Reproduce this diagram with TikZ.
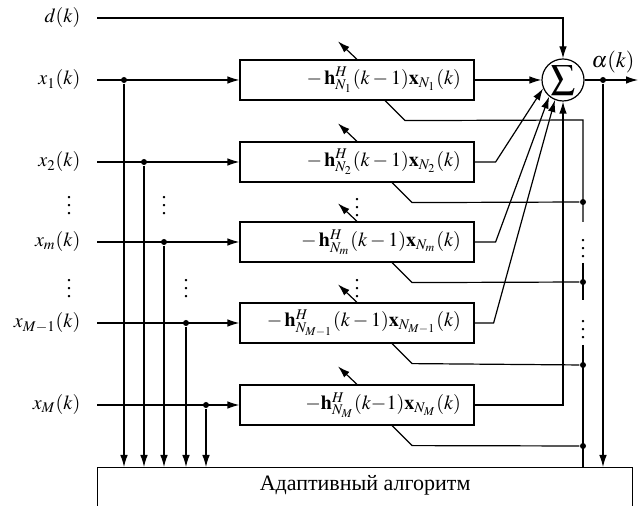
\documentclass[tikz,border=0pt]{standalone}
\usepackage{mathptmx}
\usepackage{fontspec}
\setmainfont{Liberation Serif}
\usetikzlibrary{arrows.meta,calc}
\newcommand\ftext[1]{\makebox[104pt][r]{$#1$}}

\begin{document}
\begin{tikzpicture}[x=0.5pt, y=-0.5pt,
    line width=0.6pt,
    >={Latex[length=6pt,width=3.8pt]},
    font=\fontsize{10}{12}\selectfont,
    lbl/.style={anchor=east, inner xsep=8pt, inner ysep=0pt},
    filt/.style={draw, minimum height=20pt, minimum width=117pt, inner xsep=0pt},
    dot/.style={circle, fill, inner sep=0pt, minimum size=3pt},
    sumnode/.style={draw, circle, minimum size=21pt, inner sep=0pt, font=\fontsize{12}{14}\selectfont}
]
\useasboundingbox (0,0) rectangle (642,506);

% input signals
\node[lbl] (d) at (97,18) {$d(k)$};
\node[lbl] (x1) at (97,80) {$x_1(k)$};
\node[lbl] (x2) at (97,162) {$x_2(k)$};
\node[lbl] (xm) at (97,242) {$x_m(k)$};
\node[lbl] (xM1) at (97,323) {$x_{M-1}(k)$};
\node[lbl] (xM) at (97,405) {$x_M(k)$};
\node (vd1) at (69,200) {$\vdots$};
\node (vd2) at (69,283) {$\vdots$};

% filters
\node[filt] (f1) at (357,80) {\ftext{-\,\mathbf{h}^H_{N_1}(k-1)\mathbf{x}_{N_1}(k)}};
\node[filt] (f2) at (357,162) {\ftext{-\,\mathbf{h}^H_{N_2}(k-1)\mathbf{x}_{N_2}(k)}};
\node[filt] (fm) at (357,242) {\ftext{-\,\mathbf{h}^H_{N_m}(k-1)\mathbf{x}_{N_m}(k)}};
\node[filt] (fM1) at (357,323) {\ftext{-\,\mathbf{h}^H_{N_{M-1}}(k-1)\mathbf{x}_{N_{M-1}}(k)}};
\node[filt] (fM) at (357,405) {\ftext{-\mathbf{h}^H_{N_M}(k{-}1)\mathbf{x}_{N_M}(k)}};
\node (vf1) at (357,202) {$\vdots$};
\node (vf2) at (357,283) {$\vdots$};

\node[sumnode] (sum) at (563,80) {$\displaystyle\sum$};
\node (alab) at (613,62) {\fontsize{11}{13}\selectfont$\alpha(k)$};
\node[draw, anchor=north west, minimum width=267.5pt, inner ysep=3pt,
      text height=8.5pt, text depth=20pt, font=\fontsize{11}{13}\selectfont]
      (alg) at (97,467) {Адаптивный алгоритм};

% taps to the algorithm
\node[dot] (t1) at (124,80) {};
\node[dot] (t2) at (144,162) {};
\node[dot] (tm) at (164,242) {};
\node[dot] (tM1) at (186,323) {};
\node[dot] (tM) at (206,405) {};
\node (vt1) at (164,200) {$\vdots$};
\node (vt2) at (186,283) {$\vdots$};

\foreach \s/\t in {x1/f1, x2/f2, xm/fm, xM1/fM1, xM/fM}
  \draw[->] (\s) -- (\t);
\foreach \t in {t1, t2, tm, tM1, tM}
  \draw[->] (\t) -- (\t |- alg.north);
\foreach \t in {f1, f2, fm, fM1, fM}
  \draw[->] (\t.north) -- ++(-19,-18);

\draw[->] (d) -| (sum);
\draw[->] (f1) -- (sum);
\draw[->] (f2.east) -- ++(21,0) -- (sum.203);
\draw[->] (fm.east) -- ++(21,0) -- (sum.230);
\draw[->] (fM1.east) -- ++(19,0) -- (sum.248);
\draw[->] (fM.east) -| (sum.south);

% output
\node[dot] (o) at (603,80) {};
\coordinate (out) at (638,80);
\draw[->] (sum) -- (out);
\draw[->] (o) -- (o |- alg.north);

% error feedback
\coordinate (e1) at (583,120);
\node[dot] (e2) at (583,202) {};
\node[dot] (em) at (583,282) {};
\node[dot] (eM1) at (583,365) {};
\node[dot] (eM) at (583,446) {};
\coordinate (b1) at (583,222);
\coordinate (b2) at (583,263);
\coordinate (b3) at (583,300);
\coordinate (b4) at (583,345);
\node (vb1) at (583,243) {$\vdots$};
\node (vb2) at (583,324) {$\vdots$};

\draw ($(f1.south)+(28,0)$) -- ++(20,20) -- (e1) -- (b1);
\draw (b2) -- (b3);
\draw (b4) -- (b4 |- alg.north);
\foreach \f/\e in {f2/e2, fm/em, fM1/eM1, fM/eM}
  \draw ($(\f.south)+(35,0)$) -- ++(20,20) -- (\e);

\end{tikzpicture}
\end{document}
